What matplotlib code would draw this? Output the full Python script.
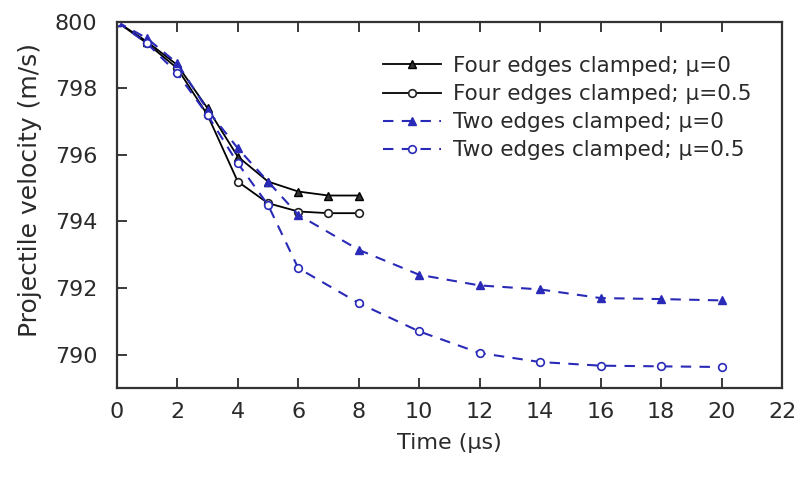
import matplotlib
matplotlib.use("Agg")
import matplotlib.pyplot as plt

plt.rcParams['font.family'] = ['DejaVu Sans']

t_four = [0, 1, 2, 3, 4, 5, 6, 7, 8]
v_four_mu0 = [800, 799.4, 798.7, 797.4, 795.95, 795.2, 794.9, 794.78, 794.78]
v_four_mu05 = [800, 799.35, 798.6, 797.2, 795.2, 794.55, 794.3, 794.25, 794.25]

t_two = [0, 1, 2, 3, 4, 5, 6, 8, 10, 12, 14, 16, 18, 20]
v_two_mu0 = [800, 799.5, 798.75, 797.35, 796.2, 795.2, 794.2, 793.15, 792.4, 792.08, 791.96, 791.7, 791.67, 791.63]
v_two_mu05 = [800, 799.35, 798.45, 797.2, 795.75, 794.5, 792.6, 791.55, 790.7, 790.05, 789.78, 789.67, 789.65, 789.63]

labels = ["Four edges clamped; \u03bc=0", "Four edges clamped; \u03bc=0.5",
          "Two edges clamped; \u03bc=0", "Two edges clamped; \u03bc=0.5"]

xticks = list(range(0, 23, 2))
yticks = [790, 792, 794, 796, 798, 800]

blue = '#2a2ab8'
txt = '#2a2a2a'

fig = plt.figure(figsize=(8.0, 4.79), dpi=100)
ax = fig.add_axes([0.146, 0.19, 0.8315, 0.7647])

ax.plot(t_four, v_four_mu0, color='black', lw=1.3, marker='^', ms=5.5, mfc='#333333', mec='black', label=labels[0])
ax.plot(t_four, v_four_mu05, color='black', lw=1.3, marker='o', ms=5.5, mfc='white', mec='#222222', mew=1.2, label=labels[1])
ax.plot(t_two, v_two_mu0, color=blue, lw=1.5, ls=(0, (5, 4)), marker='^', ms=5.5, mfc=blue, mec=blue, label=labels[2])
ax.plot(t_two, v_two_mu05, color=blue, lw=1.5, ls=(0, (5, 4)), marker='o', ms=5.5, mfc='white', mec=blue, mew=1.2, label=labels[3])

ax.set_xlim(0, 22)
ax.set_ylim(789, 800)
ax.set_xticks(xticks)
ax.set_yticks(yticks)
ax.tick_params(axis='both', direction='in', length=7, width=1.3, labelsize=16, colors=txt)
ax.tick_params(axis='x', top=True, pad=10)
ax.tick_params(axis='y', pad=14)
for s in ax.spines.values():
    s.set_linewidth(1.6)
    s.set_color('#333333')

ax.set_xlabel("Time (\u03bcs)", fontsize=16, labelpad=8, color=txt)
ax.set_ylabel("Projectile velocity (m/s)", fontsize=18, color=txt)
ax.yaxis.set_label_coords(-0.113, 0.54)

leg = ax.legend(loc='upper left', bbox_to_anchor=(0.387, 0.93), frameon=False, fontsize=15.5,
                handlelength=2.7, handletextpad=0.55, labelspacing=0.38, borderaxespad=0)
for t in leg.get_texts():
    t.set_color(txt)

fig.savefig('out.png', dpi=100)
